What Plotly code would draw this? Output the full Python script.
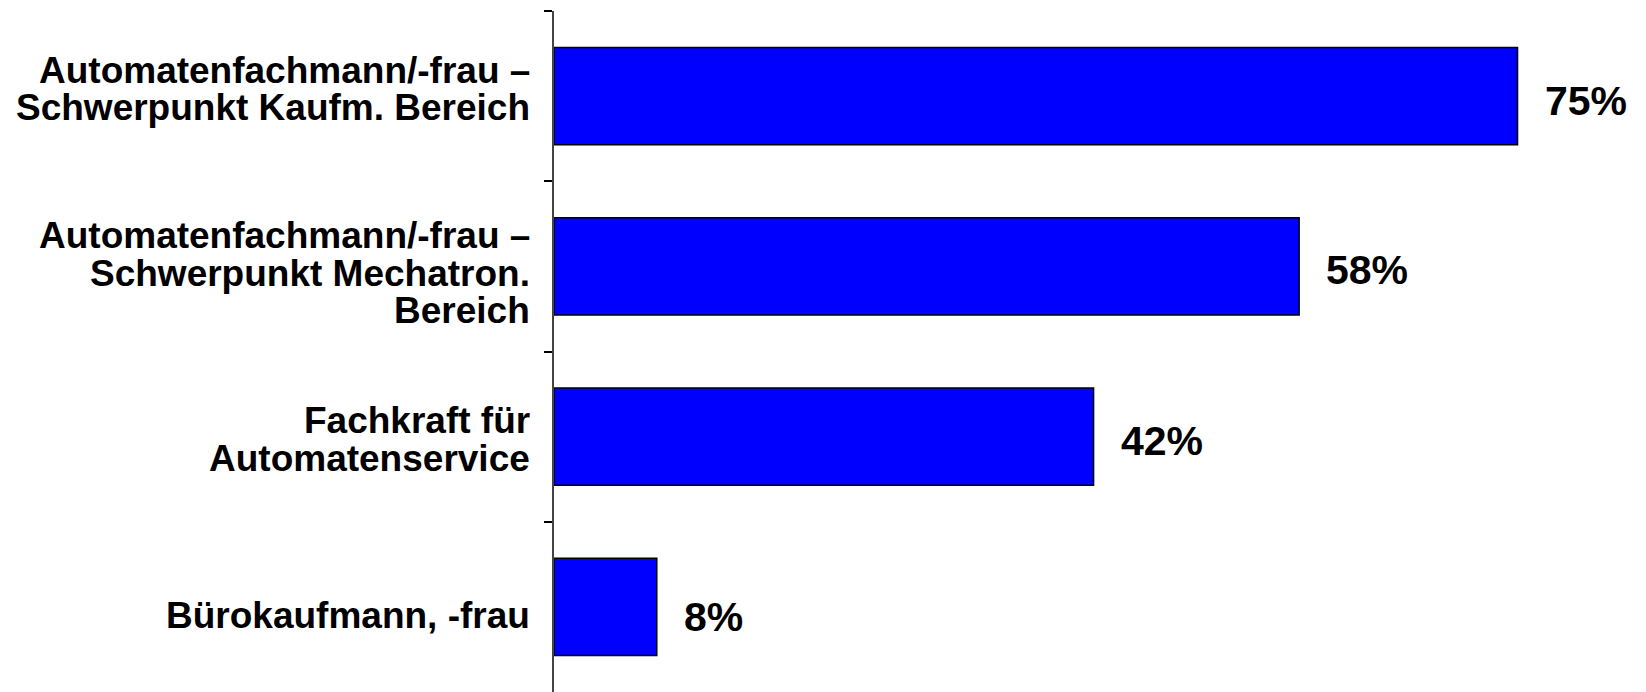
import plotly.graph_objects as go

categories = [
    "Automatenfachmann/-frau –<br>Schwerpunkt Kaufm. Bereich",
    "Automatenfachmann/-frau –<br>Schwerpunkt Mechatron.<br>Bereich",
    "Fachkraft für<br>Automatenservice",
    "Bürokaufmann, -frau",
]
values = [75, 58, 42, 8]
value_labels = ["75%", "58%", "42%", "8%"]

# text styling (pixel nudges, downward positive)
FONT = "Arial, Liberation Sans, sans-serif"
LINE_H = 37.5
label_dy = [-7, 7, 3, 9]
value_dy = [5, 4, 4, 10]

# page body has an 8px default margin; compensate so the figure fills the window
PAGE_OFF = 8

fig = go.Figure()
fig.add_trace(go.Bar(
    x=values,
    y=categories,
    orientation="h",
    marker=dict(color="#0000FF", line=dict(color="black", width=1.5)),
    hoverinfo="skip",
))

annotations = []
for cat, dy in zip(categories, label_dy):
    lines = cat.split("<br>")
    n = len(lines)
    for k, line in enumerate(lines):
        annotations.append(dict(
            xref="paper", yref="y", x=0, y=cat,
            text=line, showarrow=False,
            xanchor="right", yanchor="middle", xshift=-22,
            yshift=((n - 1) / 2 - k) * LINE_H - dy,
            font=dict(family=FONT, size=37, color="black", weight="bold"),
        ))
for cat, v, lab, dy in zip(categories, values, value_labels, value_dy):
    annotations.append(dict(
        xref="x", yref="y", x=v, y=cat,
        text=lab, showarrow=False,
        xanchor="left", yanchor="middle", xshift=25, yshift=-dy,
        font=dict(family=FONT, size=41, color="black", weight="bold"),
    ))

fig.update_layout(
    width=1646 - PAGE_OFF, height=692 - PAGE_OFF,
    margin=dict(l=554 - PAGE_OFF, r=0, t=11 - PAGE_OFF, b=0),
    plot_bgcolor="white", paper_bgcolor="white",
    bargap=0.43,
    showlegend=False,
    annotations=annotations,
    xaxis=dict(visible=False, range=[0, 85], fixedrange=True),
    yaxis=dict(
        autorange="reversed",
        showline=True, linecolor="#444444", linewidth=1.5,
        ticks="outside", tickson="boundaries", ticklen=8,
        tickcolor="black", tickwidth=1.5,
        showticklabels=False, showgrid=False, zeroline=False,
        fixedrange=True,
    ),
)

fig.write_html("out.html")
